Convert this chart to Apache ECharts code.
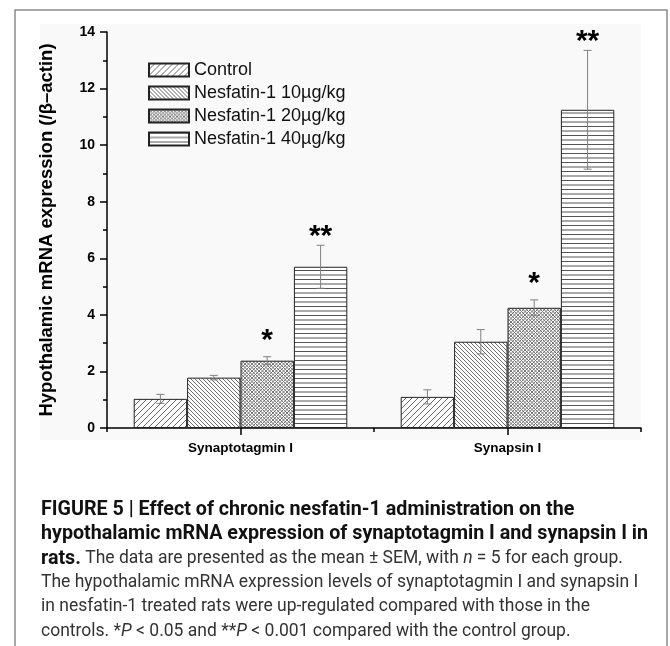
<!DOCTYPE html>
<html>
<head>
<meta charset="utf-8">
<script src="https://cdn.jsdelivr.net/npm/echarts@6/dist/echarts.min.js"></script>
<style>
  html, body { margin: 0; padding: 0; background: #fff; }
  #barChart { width: 670px; height: 646px; }
</style>
</head>
<body>
<div id="barChart"></div>
<script>
// values (mean and SEM, relative to beta-actin)
const categories = ['Synaptotagmin I', 'Synapsin I']
const groups = ['Control', 'Nesfatin-1 10µg/kg', 'Nesfatin-1 20µg/kg', 'Nesfatin-1 40µg/kg']
const controlMean = [1.03, 1.1]
const controlErr = [0.16, 0.25]
const dose10Mean = [1.78, 3.05]
const dose10Err = [0.08, 0.43]
const dose20Mean = [2.38, 4.25]
const dose20Err = [0.14, 0.28]
const dose40Mean = [5.7, 11.25]
const dose40Err = [0.76, 2.1]
const controlStars = ['', '']
const dose10Stars = ['', '']
const dose20Stars = ['*', '*']
const dose40Stars = ['**', '**']
const yMin = 0
const yMax = 14
const yInterval = 2

const captionLines = [
  '{b|FIGURE 5 | Effect of chronic nesfatin-1 administration on the}',
  '{b|hypothalamic mRNA expression of synaptotagmin I and synapsin I in}',
  '{b|rats.} The data are presented as the mean ± SEM, with {i|n} = 5 for each group.',
  'The hypothalamic mRNA expression levels of synaptotagmin I and synapsin I',
  'in nesfatin-1 treated rats were up-regulated compared with those in the',
  'controls. *{i|P} < 0.05 and **{i|P} < 0.001 compared with the control group.',
]

const means = [controlMean, dose10Mean, dose20Mean, dose40Mean]
const errs = [controlErr, dose10Err, dose20Err, dose40Err]
const stars = [controlStars, dose10Stars, dose20Stars, dose40Stars]

// hatch patterns drawn on small canvases
function makePattern(kind) {
  const step = { fwd: 6, back: 4, cross: 3.5, horiz: 4.5 }[kind]
  const size = Math.round(step * 2)
  const c = document.createElement('canvas')
  c.width = size
  c.height = size
  const ctx = c.getContext('2d')
  ctx.fillStyle = '#ffffff'
  ctx.fillRect(0, 0, size, size)
  ctx.lineWidth = 1
  ctx.strokeStyle = kind === 'cross' ? '#777' : '#6a6a6a'
  ctx.beginPath()
  if (kind === 'fwd' || kind === 'cross') {
    for (let k = -size; k <= size * 2; k += size / 2) {
      ctx.moveTo(k, size)
      ctx.lineTo(k + size, 0)
    }
  }
  if (kind === 'back' || kind === 'cross') {
    for (let k = -size; k <= size * 2; k += size / 2) {
      ctx.moveTo(k, 0)
      ctx.lineTo(k + size, size)
    }
  }
  if (kind === 'horiz') {
    ctx.strokeStyle = '#555'
    ctx.moveTo(0, 0.5)
    ctx.lineTo(size, 0.5)
    ctx.moveTo(0, size / 2 + 0.5)
    ctx.lineTo(size, size / 2 + 0.5)
  }
  ctx.stroke()
  return { image: c, repeat: 'repeat' }
}

const patterns = [makePattern('fwd'), makePattern('back'), makePattern('cross'), makePattern('horiz')]

const barSeries = groups.map((name, s) => ({
  name: name,
  type: 'bar',
  xAxisIndex: 0,
  barGap: '0%',
  barCategoryGap: '20%',
  data: means[s],
  itemStyle: {
    color: patterns[s],
    borderColor: '#222',
    borderWidth: 1,
  },
  z: 2,
}))

// error bars + significance marks
const errData = []
const errStars = []
groups.forEach((g, s) => {
  categories.forEach((c, i) => {
    errData.push([i, s, means[s][i], errs[s][i]])
    errStars.push(stars[s][i])
  })
})

const captionFont = 'Roboto, Liberation Sans, sans-serif'

const chart = echarts.init(document.getElementById('barChart'), null, { renderer: 'canvas' })
chart.setOption({
  animation: false,
  textStyle: { fontFamily: 'Liberation Sans, Arial, sans-serif' },
  grid: { left: 107, right: 29, top: 32, bottom: 218 },
  graphic: [
    {
      type: 'rect',
      z: -10,
      silent: true,
      shape: { x: 15, y: 10, width: 652, height: 700 },
      style: { fill: 'none', stroke: '#8a8a8a', lineWidth: 1.5 },
    },
    {
      type: 'rect',
      z: -9,
      silent: true,
      shape: { x: 40, y: 24, width: 601, height: 416 },
      style: { fill: '#f9f9f9' },
    },
    ...captionLines.map((line, k) => ({
      type: 'text',
      left: 41,
      top: 500 + k * 24.5,
      style: {
        text: line,
        fill: '#333',
        fontFamily: captionFont,
        fontSize: 17.5,
        rich: {
          b: { fontWeight: 'bold', fontSize: 19.7, fill: '#111', fontFamily: captionFont },
          i: { fontStyle: 'italic', fontSize: 17.5, fill: '#333', fontFamily: captionFont },
        },
      },
    })),
  ],
  legend: {
    orient: 'vertical',
    left: 148,
    top: 61,
    padding: 0,
    itemWidth: 40,
    itemHeight: 13,
    itemGap: 5,
    icon: 'rect',
    data: groups,
    textStyle: { fontSize: 18, color: '#111' },
  },
  xAxis: [
    {
      type: 'category',
      data: categories,
      axisLine: { lineStyle: { color: '#000', width: 1.5 } },
      axisTick: { show: true, length: 4, lineStyle: { color: '#000', width: 1.5 } },
      axisLabel: { color: '#000', fontWeight: 'bold', fontSize: 13.5, margin: 13 },
    },
    {
      // second axis only for the ticks under the group centres
      type: 'category',
      data: categories,
      position: 'bottom',
      axisLine: { show: false },
      axisTick: { show: true, alignWithLabel: true, length: 7, lineStyle: { color: '#000', width: 1.5 } },
      axisLabel: { show: false },
    },
  ],
  yAxis: {
    type: 'value',
    min: yMin,
    max: yMax,
    interval: yInterval,
    name: 'Hypothalamic mRNA expression (/β–actin)',
    nameLocation: 'middle',
    nameGap: 51,
    nameTextStyle: { fontSize: 18.5, fontWeight: 'bold', color: '#000' },
    axisLine: { show: true, lineStyle: { color: '#000', width: 1.5 } },
    axisTick: { show: true, length: 7, lineStyle: { color: '#000', width: 1.5 } },
    minorTick: { show: true, splitNumber: 2, length: 4, lineStyle: { color: '#000', width: 1.5 } },
    splitLine: { show: false },
    axisLabel: { color: '#000', fontWeight: 'bold', fontSize: 14, margin: 12 },
  },
  series: [
    ...barSeries,
    {
      type: 'custom',
      xAxisIndex: 0,
      z: 5,
      encode: { x: 0, y: 2 },
      data: errData,
      renderItem(params, api) {
        const cat = api.value(0)
        const s = api.value(1)
        const mean = api.value(2)
        const err = api.value(3)
        const band = api.size([1, 0])[0]
        const bw = (band * 0.8) / 4
        const x = api.coord([cat, 0])[0] + (s - 1.5) * bw
        const yTop = api.coord([cat, mean + err])[1]
        const yBot = api.coord([cat, mean - err])[1]
        const lineStyle = { stroke: '#808080', lineWidth: 1 }
        const children = [
          { type: 'line', shape: { x1: x, y1: yTop, x2: x, y2: yBot }, style: lineStyle },
          { type: 'line', shape: { x1: x - 4, y1: yTop, x2: x + 4, y2: yTop }, style: lineStyle },
          { type: 'line', shape: { x1: x - 4, y1: yBot, x2: x + 4, y2: yBot }, style: lineStyle },
        ]
        const mark = errStars[params.dataIndex]
        if (mark) {
          children.push({
            type: 'text',
            style: {
              text: mark,
              x: x,
              y: yTop - (mark.length === 1 ? 16 : 9),
              align: 'center',
              verticalAlign: 'middle',
              fontSize: 30,
              fontWeight: 'bold',
              fontFamily: 'Liberation Sans, Arial, sans-serif',
              fill: '#000',
            },
          })
        }
        return { type: 'group', children: children }
      },
    },
  ],
})
</script>
</body>
</html>
